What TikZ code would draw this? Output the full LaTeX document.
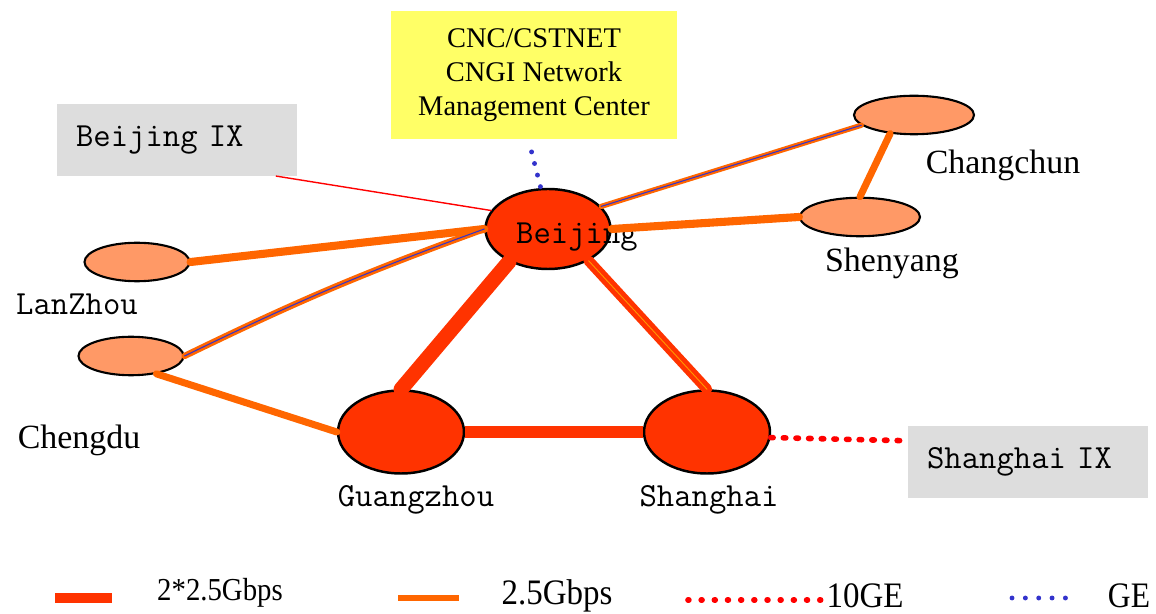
\documentclass[tikz,border=0pt]{standalone}
\usepackage{fontspec}
\setmainfont{Liberation Serif}
\usepackage{tikz}
\usetikzlibrary{shapes.geometric}

\definecolor{hubred}{HTML}{FF3300}
\definecolor{trunk}{HTML}{FF6600}
\definecolor{citypeach}{HTML}{FF9966}
\definecolor{innerline}{HTML}{FF9900}
\definecolor{boxyellow}{HTML}{FFFF66}
\definecolor{boxgray}{HTML}{DDDDDD}
\definecolor{geblue}{HTML}{3333CC}
\definecolor{tenge}{HTML}{FF0000}

\newcommand{\monolbl}{\fontsize{19.2}{21}\selectfont\ttfamily}
\newcommand{\seriflbl}{\fontsize{19.3}{22}\selectfont}
\newcommand{\nmclbl}{\fontsize{16.2}{19.2}\selectfont}

\begin{document}
\begin{tikzpicture}[x=0.02cm, y=-0.02cm, line cap=round,
  hub/.style={draw, ellipse, fill=hubred, line width=1.4pt, minimum width=2.52cm, minimum height=1.66cm, inner sep=0pt},
  city/.style={draw, ellipse, fill=citypeach, line width=1.2pt, minimum width=2.4cm, minimum height=0.77cm, inner sep=0pt},
  ixbox/.style={fill=boxgray, minimum width=4.8cm, minimum height=1.43cm, text width=4.04cm, inner xsep=0.36cm, align=left, font=\monolbl},
  mono/.style={font=\monolbl},
  serif/.style={font=\seriflbl},
  dbl/.style={draw=hubred, line width=#1},
  sgl/.style={draw=trunk, line width=#1},
  sglge/.style={draw=geblue, line width=0.6pt, preaction={draw=trunk, line width=#1}},
  ge/.style={draw=geblue, line width=2.8pt, dash pattern=on 0pt off 6.8pt},
  tenge/.style={draw=tenge, line width=3.2pt, dash pattern=on 1.4pt off 5.8pt}]
\useasboundingbox (0,0) rectangle (1156,614);

% management center and exchange points
\node[fill=boxyellow, minimum width=5.72cm, minimum height=2.56cm, align=center, font=\nmclbl] (nmc) at (534,75)
  {CNC/CSTNET\\CNGI Network\\Management Center};
\node[ixbox] (bjix) at (177,140) {Beijing IX};
\node[ixbox] (shix) at (1028,462) {Shanghai IX};

% backbone nodes
\node[hub, minimum width=2.5cm, minimum height=1.6cm] (bj) at (548,229) {};
\node[hub] (gz) at (401,432) {};
\node[hub] (sh) at (707,432) {};
\node[city] (cc) at (914,115) {};
\node[city] (sy) at (860,217) {};
\node[city, minimum width=2.1cm] (lz) at (137,262) {};
\node[city, minimum width=2.1cm] (cd) at (131,356) {};

% city names
\node[mono] (bjname) at (577,237) {Beijing};
\node[mono] (gzname) at (416,500) {Guangzhou};
\node[mono] (shname) at (709,500) {Shanghai};
\node[mono] (lzname) at (77,304) {LanZhou};
\node[serif] (cdname) at (79,440) {Chengdu};
\node[serif] (ccname) at (1003,165) {Changchun};
\node[serif] (syname) at (892,263) {Shenyang};

% links
\draw[red, line width=0.8pt] (bjix.-20) -- (bj.162);
\draw[ge, shorten <=0.26cm] (nmc.-95) -- (bj.100);
\draw[sgl=4.6pt] (lz.east) -- (bj.west);
\draw[sglge=3.6pt] (cd.east) to[bend left=3] (bj.west);
\draw[sglge=3pt] (bj.23) -- (cc.-169);
\draw[sgl=4.6pt] (bj.east) -- (sy.west);
\draw[sgl=4pt] (cc.-142) -- (sy.north);
\draw[sgl=4pt] (cd.-35) -- (gz.west);
\draw[dbl=8.5pt] (bj.-140) -- (gz.north);
\draw[dbl=6pt, postaction={draw=innerline, line width=0.5pt}] (bj.-38) -- (sh.north);
\draw[dbl=6.8pt, line cap=butt] (gz.east) -- (sh.west);
\draw[tenge] (sh.-5) -- (shix.170);

% legend
\draw[hubred, line width=6.2pt, line cap=butt] (55,598) -- (112,598);
\node[font=\fontsize{18.2}{20}\selectfont] (lgdbl) at (220,593) {\scalebox{0.9}[1]{2*2.5Gbps}};
\draw[trunk, line width=3.8pt, line cap=butt] (398,598) -- (459,598);
\node[font=\fontsize{20.4}{22}\selectfont] (lgsgl) at (557,596) {\scalebox{0.92}[1]{2.5Gbps}};
\draw[tenge, dash pattern=on 0.5pt off 7pt] (688,600) -- (822,600);
\node[font=\fontsize{20.4}{22}\selectfont] (lgten) at (865,596) {\scalebox{0.92}[1]{10GE}};
\draw[ge, dash pattern=on 0pt off 7.6pt] (1012,598) -- (1066,598);
\node[font=\fontsize{20.4}{22}\selectfont] (lgge) at (1129,596) {\scalebox{0.88}[1]{GE}};
\end{tikzpicture}
\end{document}
